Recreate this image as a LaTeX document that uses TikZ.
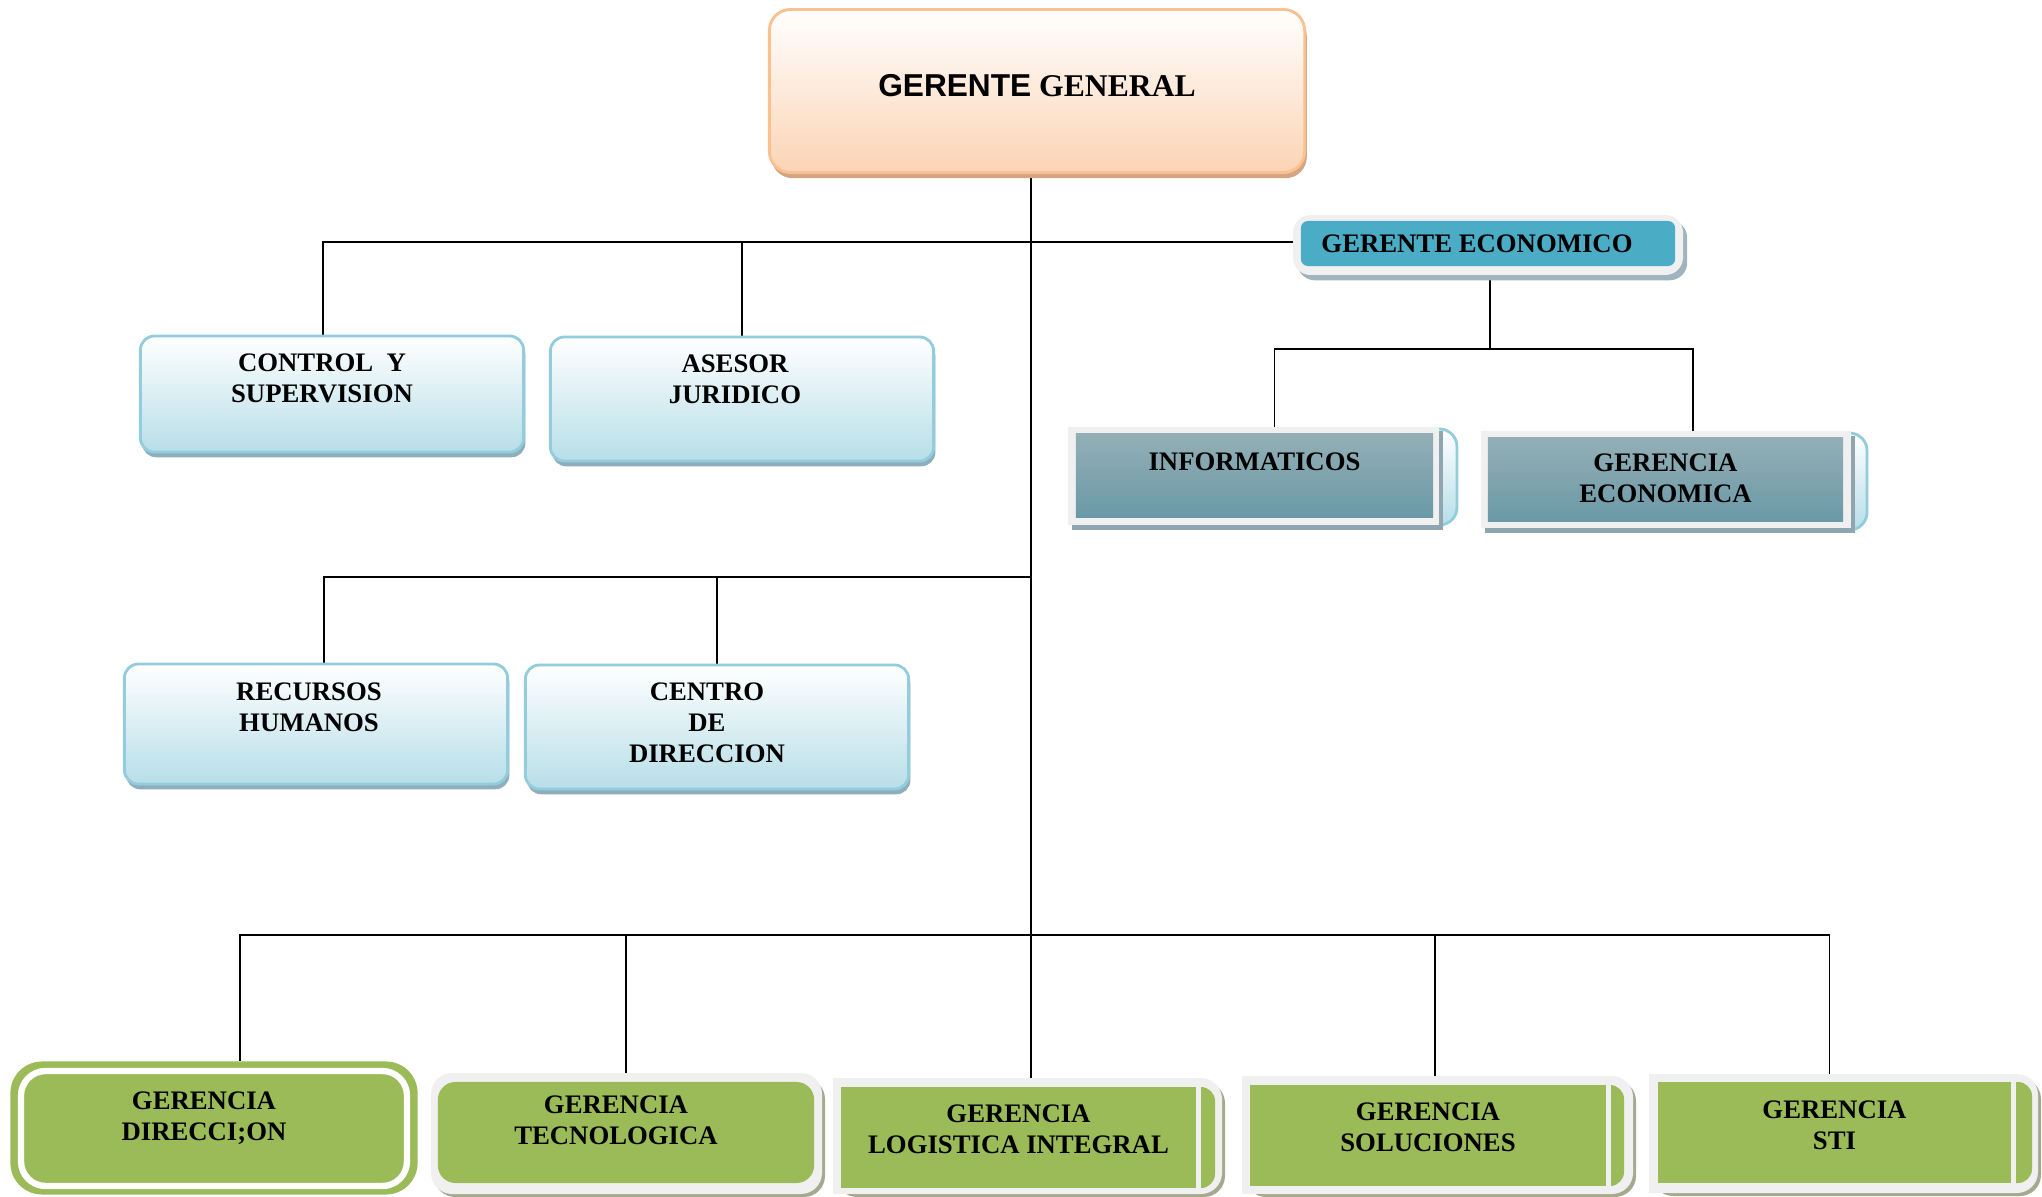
\documentclass[tikz,border=0pt]{standalone}
\usepackage{fontspec}
\setmainfont{Liberation Serif}
\newfontfamily\arialfont{Liberation Sans}
\usepackage{tikz}
\usetikzlibrary{positioning, backgrounds}
\definecolor{boxBlue}{HTML}{B7DEE8}
\definecolor{boxBlueLine}{HTML}{93CDDD}
\definecolor{boxBlueShadow}{HTML}{8DAFBB}
\definecolor{ggPeach}{HTML}{FBD4B4}
\definecolor{ggLine}{HTML}{FAC090}
\definecolor{ggShadow}{HTML}{D3A583}
\definecolor{geBlue}{HTML}{4BACC6}
\definecolor{frameGray}{HTML}{F0F0F0}
\definecolor{geShadow}{HTML}{A0B4BE}
\definecolor{infoTop}{HTML}{94AFB6}
\definecolor{infoBottom}{HTML}{6A99A7}
\definecolor{infoShadow}{HTML}{8FA6B0}
\definecolor{greenC}{HTML}{9BBB59}
\definecolor{greenShadow}{HTML}{A5AA8F}

\tikzset{
  conn/.style={line width=0.55pt, black},
  lbl/.style={font=\fontsize{7.6}{8.8}\selectfont\bfseries, align=center, inner sep=0pt},
  bluebox/.style={rectangle, rounded corners=4pt, draw=boxBlueLine, line width=0.8pt,
    top color=white, bottom color=boxBlue, minimum width=3.83cm,
    preaction={fill=boxBlueShadow, transform canvas={shift={(0.5pt,-1.5pt)}}}},
  ggbox/.style={rectangle, rounded corners=6pt, draw=ggLine, line width=0.8pt,
    top color=white, bottom color=ggPeach,
    preaction={fill=ggShadow, transform canvas={shift={(0.6pt,-1.6pt)}}}},
  tealbox/.style={rectangle, top color=infoTop, bottom color=infoBottom, minimum height=0.83cm},
  greenbox/.style={rectangle, fill=greenC, minimum height=1.01cm},
}

\begin{document}
\begin{tikzpicture}[x=0.01cm, y=-0.01cm]
    \useasboundingbox (0,0) rectangle (2042,1197);

    % Top
    \node[ggbox, minimum width=5.35cm, minimum height=1.63cm] (gg) at (1037,91) {};
    \node[lbl, font=\fontsize{9}{11}\selectfont\bfseries, below=0.66cm of gg.north] {{\arialfont GERENTE} GENERAL};

    % Gerente economico
    \fill[frameGray, rounded corners=5pt, preaction={fill=geShadow, transform canvas={shift={(1.2pt,-1.5pt)}}}] (1293,215) rectangle (1683,275);
    \node[fill=geBlue, rounded corners=2pt, minimum width=3.74cm, minimum height=0.45cm] (geco) at (1488,243.5) {};
    \node[lbl, xshift=-0.11cm] at (geco) {GERENTE ECONOMICO};

    % Staff boxes
    \node[bluebox, minimum height=1.16cm] (control) at (332,394) {};
    \node[lbl, below=0.19cm of control.north, xshift=-0.1cm] {CONTROL\ \ Y\\SUPERVISION};
    \node[bluebox, minimum height=1.24cm] (asesor) at (742,399) {};
    \node[lbl, below=0.19cm of asesor.north, xshift=-0.07cm] {ASESOR\\JURIDICO};
    \node[bluebox, minimum height=1.20cm] (rrhh) at (316,724) {};
    \node[lbl, below=0.2cm of rrhh.north, xshift=-0.07cm] {RECURSOS\\HUMANOS};
    \node[bluebox, minimum height=1.24cm] (centro) at (717,727) {};
    \node[lbl, below=0.19cm of centro.north, xshift=-0.1cm] {CENTRO\\DE\\DIRECCION};

    % Informaticos / gerencia economica
    \shade[rounded corners=5pt, top color=white, bottom color=boxBlue, draw=boxBlueLine, line width=0.8pt] (1400,429) rectangle (1457,525);
    \fill[infoShadow] (1072,431) rectangle (1443,530);
    \fill[frameGray] (1068,427) rectangle (1439,525);
    \node[tealbox, minimum width=3.57cm] (info) at (1254.5,475.5) {};
    \node[lbl, below=0.19cm of info.north] {INFORMATICOS};
    \shade[rounded corners=5pt, top color=white, bottom color=boxBlue, draw=boxBlueLine, line width=0.8pt] (1820,433) rectangle (1867,530);
    \fill[infoShadow] (1485,436) rectangle (1855,533);
    \fill[frameGray] (1481,431) rectangle (1851,528);
    \node[tealbox, minimum width=3.55cm] (gecon) at (1665.5,479.5) {};
    \node[lbl, below=0.16cm of gecon.north] {GERENCIA\\ECONOMICA};

    % Gerencias
    \node[rectangle, fill=greenC, rounded corners=9pt, minimum width=4.07cm, minimum height=1.33cm] (dir) at (214,1128) {};
    \draw[white, line width=1.8pt, rounded corners=7pt] (21,1071) rectangle (407,1186);
    \node[lbl, below=0.3cm of dir.north, xshift=-0.1cm] {GERENCIA\\DIRECCI;ON};

    \fill[greenShadow, rounded corners=6pt] (434,1078) rectangle (825,1197);
    \fill[frameGray, rounded corners=6pt] (431,1073) rectangle (822,1194);
    \node[greenbox, rounded corners=5pt, minimum width=3.76cm] (tecno) at (626,1132.5) {};
    \node[lbl, below=0.14cm of tecno.north, xshift=-0.1cm] {GERENCIA\\TECNOLOGICA};

    \fill[greenShadow, rounded corners=6pt] (836,1082) rectangle (1225,1197);
    \fill[frameGray, rounded corners=6pt] (833,1078) rectangle (1222,1194);
    \fill[greenC, rounded corners=4pt] (1150,1087) rectangle (1215,1188);
    \fill[frameGray] (833,1078) rectangle (1201,1194);
    \node[greenbox, minimum width=3.55cm] (logi) at (1018.5,1137.5) {};
    \node[lbl, below=0.18cm of logi.north] {GERENCIA\\LOGISTICA INTEGRAL};

    \fill[greenShadow, rounded corners=6pt] (1245,1080) rectangle (1636,1197);
    \fill[frameGray, rounded corners=6pt] (1242,1076) rectangle (1633,1194);
    \fill[greenC, rounded corners=4pt] (1560,1085) rectangle (1624,1186);
    \fill[frameGray] (1242,1076) rectangle (1611,1194);
    \node[greenbox, minimum width=3.56cm] (soluc) at (1428,1135.5) {};
    \node[lbl, below=0.18cm of soluc.north] {GERENCIA\\SOLUCIONES};

    \fill[greenShadow, rounded corners=6pt] (1652,1078) rectangle (2041,1196);
    \fill[frameGray, rounded corners=6pt] (1649,1074) rectangle (2038,1193);
    \fill[greenC, rounded corners=4pt] (1960,1082) rectangle (2032,1183);
    \fill[frameGray] (1649,1074) rectangle (2016,1193);
    \node[greenbox, minimum width=3.53cm] (sti) at (1834.5,1132.5) {};
    \node[lbl, below=0.19cm of sti.north] {GERENCIA\\STI};

    % Connectors
    \coordinate (busA) at (1031,242);
    \coordinate (busB) at (1031,577);
    \coordinate (busC) at (1031,935);
    \coordinate (busE) at (1490,349);
    \begin{scope}[on background layer]
        \draw[conn] (busA |- gg.south) -- (busA |- logi.north);
        \draw[conn] ([xshift=-0.09cm]control.north) |- (busA);
        \draw[conn] (asesor.north) -- (asesor.north |- busA);
        \draw[conn] (busA) -- (busA -| geco.west);
        \draw[conn] (busE |- geco.south) -- (busE);
        \draw[conn] ([xshift=0.2cm]info.north) |- (busE) -| ([xshift=0.27cm]gecon.north);
        \draw[conn] ([xshift=0.08cm]rrhh.north) |- (busB);
        \draw[conn] (centro.north) -- (centro.north |- busB);
        \draw[conn] ([xshift=0.26cm]dir.north) |- (busC) -| ([xshift=-0.05cm]sti.north);
        \draw[conn] (tecno.north) -- (tecno.north |- busC);
        \draw[conn] ([xshift=0.07cm]soluc.north) -- ([xshift=0.07cm]soluc.north |- busC);
    \end{scope}
\end{tikzpicture}
\end{document}
